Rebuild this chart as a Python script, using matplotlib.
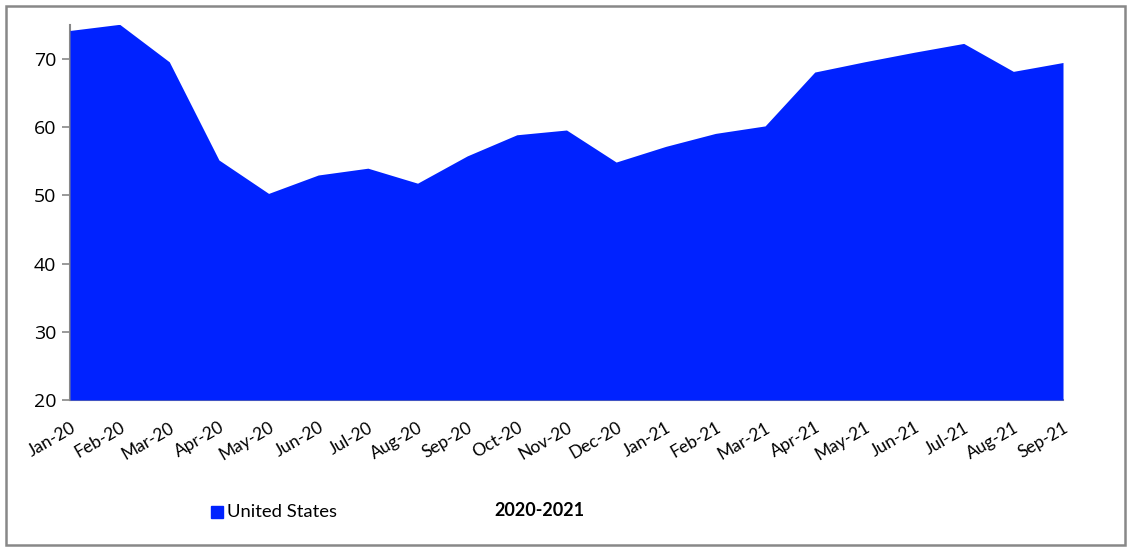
from matplotlib import pyplot as plt
from matplotlib.patches import Rectangle
import numpy as np

months = ["Jan-20", "Feb-20", "Mar-20", "Apr-20", "May-20", "Jun-20", "Jul-20",
          "Aug-20", "Sep-20", "Oct-20", "Nov-20", "Dec-20", "Jan-21", "Feb-21",
          "Mar-21", "Apr-21", "May-21", "Jun-21", "Jul-21", "Aug-21", "Sep-21"]
us_values = [74.2, 75.1, 69.6, 55.2, 50.3, 53.0, 54.0, 51.8, 55.8, 58.9, 59.6,
             54.9, 57.2, 59.1, 60.2, 68.1, 69.6, 71.0, 72.3, 68.2, 69.5]
yticks = [20, 30, 40, 50, 60, 70]

blue = "#0022ff"
grey = "#888888"

fig = plt.figure(figsize=(11.32, 5.53), dpi=100)
ax = fig.add_axes([70 / 1132, 1 - 400 / 553, (1063 - 70) / 1132, (400 - 25) / 553])

x = np.arange(len(months))
ax.fill_between(x, 20, us_values, color=blue, lw=0, zorder=1)

ax.set_xlim(0, len(months) - 1)
ax.set_ylim(20, 75)
ax.set_yticks(yticks)
ax.set_yticklabels([str(t) for t in yticks], fontsize=14, family="Open Sans")
ax.set_xticks(x)
ax.set_xticklabels(months, rotation=30, ha="right", va="top",
                   rotation_mode="anchor", fontsize=12.5, family="Lato")

for side in ("top", "right"):
    ax.spines[side].set_visible(False)
for side in ("left", "bottom"):
    ax.spines[side].set_color(grey)
    ax.spines[side].set_linewidth(1.5)
    ax.spines[side].set_zorder(0)
ax.tick_params(axis="y", length=6, color=grey, width=1.2, pad=4)
ax.tick_params(axis="x", length=0, pad=14)

# legend and series label below
fig.patches.append(Rectangle((211 / 1132, 1 - 518 / 553), 12 / 1132, 12 / 553,
                             transform=fig.transFigure, color=blue))
fig.text(227 / 1132, 1 - 512 / 553, "United States", fontsize=13.3, family="Lato",
         va="center", ha="left")
fig.text(539 / 1132, 1 - 510 / 553, "2020-2021", fontsize=13, family="Lato",
         weight="bold", va="center", ha="center")

# outer frame
fig.patches.append(Rectangle((6 / 1132, 1 - 545 / 553), 1119 / 1132, 539 / 553,
                             transform=fig.transFigure, fill=False,
                             edgecolor=grey, lw=1.8))

fig.savefig("out.png", dpi=100)
